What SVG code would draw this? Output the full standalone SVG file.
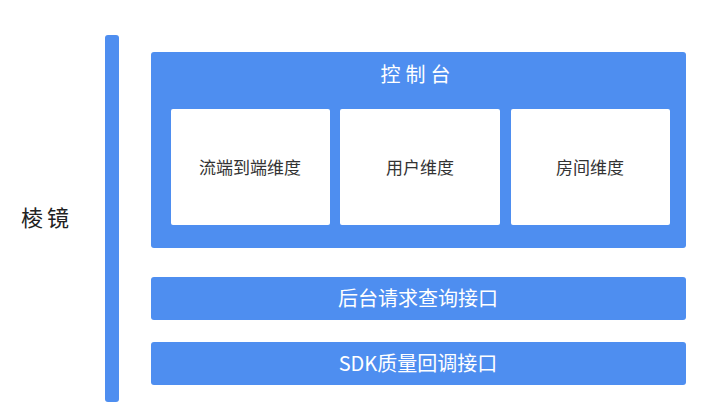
<svg xmlns="http://www.w3.org/2000/svg" width="720" height="418" viewBox="0 0 720 418">
<style>
.blue{fill:#4e8ef0}
.w{fill:#ffffff}
.t{font-family:"Noto Sans CJK SC","Noto Sans",sans-serif}
.wt{fill:#ffffff;font-size:20px}
.gt{fill:#333333;font-size:17px}
</style>
<rect width="720" height="418" fill="#ffffff"/>
<g id="prism">
<rect class="blue" x="105" y="35" width="14" height="367" rx="3"/>
<text class="t" x="47" y="226" font-size="22" fill="#222" text-anchor="middle" letter-spacing="4">棱镜</text>
</g>
<g id="console">
<rect class="blue" x="151" y="52" width="535" height="196" rx="3"/>
<text class="t wt" x="418" y="82" text-anchor="middle" letter-spacing="5">控制台</text>
</g>
<g id="stream">
<rect class="w" x="171" y="109" width="159" height="116" rx="2"/>
<text class="t gt" x="250" y="174" text-anchor="middle">流端到端维度</text>
</g>
<g id="user">
<rect class="w" x="340" y="109" width="160" height="116" rx="2"/>
<text class="t gt" x="420" y="174" text-anchor="middle">用户维度</text>
</g>
<g id="room">
<rect class="w" x="511" y="109" width="159" height="116" rx="2"/>
<text class="t gt" x="590" y="174" text-anchor="middle">房间维度</text>
</g>
<g id="backend">
<rect class="blue" x="151" y="277" width="535" height="43" rx="3"/>
<text class="t wt" x="418" y="306" text-anchor="middle">后台请求查询接口</text>
</g>
<g id="sdk">
<rect class="blue" x="151" y="342" width="535" height="43" rx="3"/>
<text class="t wt" x="418" y="371" text-anchor="middle">SDK质量回调接口</text>
</g>
<g id="connectors"/>
</svg>
